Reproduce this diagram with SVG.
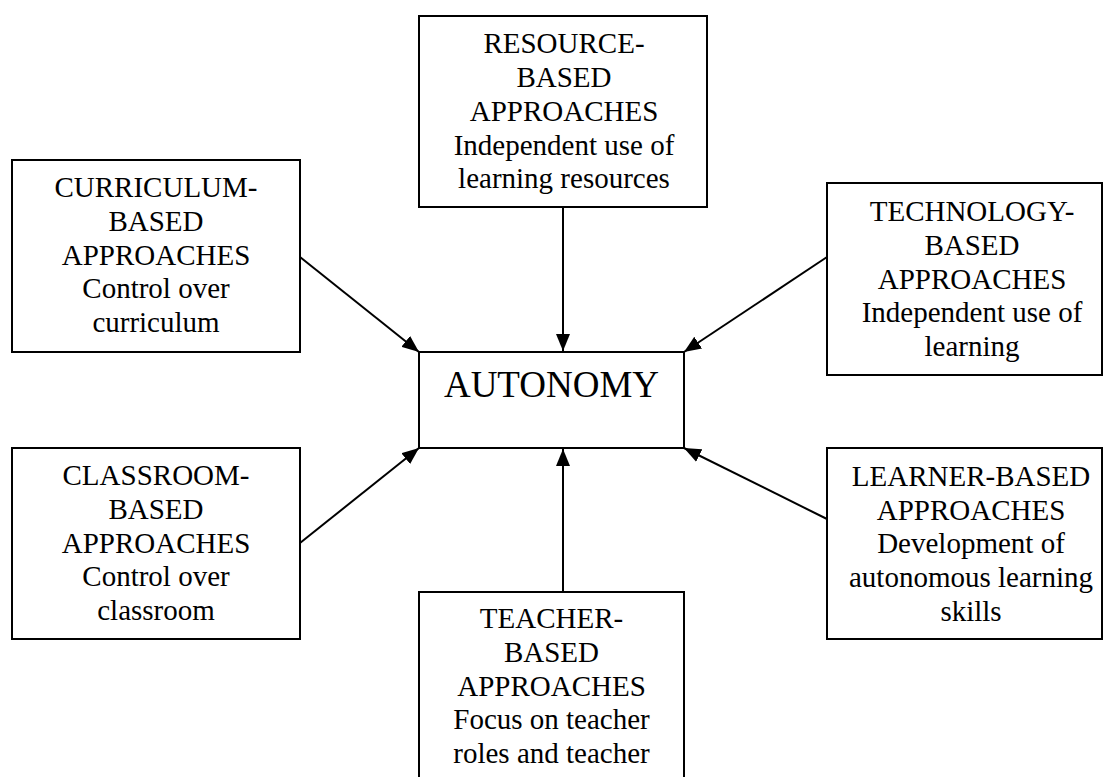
<svg xmlns="http://www.w3.org/2000/svg" width="1103" height="777" viewBox="0 0 1103 777">
<style>
.box{fill:#fff;stroke:#000;stroke-width:2}
.t{font-family:'Liberation Serif','Times New Roman',serif;font-size:29px;fill:#000;text-anchor:middle}
.big{font-size:37px}
.c{stroke:#000;stroke-width:2;fill:none}
</style>
<defs>
<marker id="ah" markerUnits="userSpaceOnUse" markerWidth="18" markerHeight="14" refX="17" refY="7" orient="auto">
<path d="M0,0 L17,7 L0,14 z" fill="#000"/>
</marker>
</defs>
<rect width="1103" height="777" fill="#fff"/>
<g id="connectors">
<line class="c" x1="563" y1="207" x2="563" y2="351" marker-end="url(#ah)"/>
<line class="c" x1="300" y1="257" x2="419" y2="352" marker-end="url(#ah)"/>
<line class="c" x1="827" y1="257" x2="684" y2="352" marker-end="url(#ah)"/>
<line class="c" x1="300" y1="543" x2="419" y2="448" marker-end="url(#ah)"/>
<line class="c" x1="827" y1="519" x2="684" y2="448" marker-end="url(#ah)"/>
<line class="c" x1="563" y1="592" x2="563" y2="449" marker-end="url(#ah)"/>
</g>
<g id="resource">
<rect class="box" x="419" y="16" width="288" height="191"/>
<text class="t" x="564" y="53">RESOURCE-</text>
<text class="t" x="564" y="87">BASED</text>
<text class="t" x="564" y="121">APPROACHES</text>
<text class="t" x="564" y="155">Independent use of</text>
<text class="t" x="564" y="188">learning resources</text>
</g>
<g id="curriculum">
<rect class="box" x="12" y="160" width="288" height="192"/>
<text class="t" x="156" y="197">CURRICULUM-</text>
<text class="t" x="156" y="231">BASED</text>
<text class="t" x="156" y="265">APPROACHES</text>
<text class="t" x="156" y="298">Control over</text>
<text class="t" x="156" y="332">curriculum</text>
</g>
<g id="technology">
<rect class="box" x="827" y="183" width="275" height="192"/>
<text class="t" x="972" y="221">TECHNOLOGY-</text>
<text class="t" x="972" y="255">BASED</text>
<text class="t" x="972" y="289">APPROACHES</text>
<text class="t" x="972" y="322">Independent use of</text>
<text class="t" x="972" y="356">learning</text>
</g>
<g id="autonomy">
<rect class="box" x="419" y="352" width="265" height="96"/>
<text class="t big" x="551.5" y="397">AUTONOMY</text>
</g>
<g id="classroom">
<rect class="box" x="12" y="448" width="288" height="191"/>
<text class="t" x="156" y="485">CLASSROOM-</text>
<text class="t" x="156" y="519">BASED</text>
<text class="t" x="156" y="553">APPROACHES</text>
<text class="t" x="156" y="586">Control over</text>
<text class="t" x="156" y="620">classroom</text>
</g>
<g id="learner">
<rect class="box" x="827" y="448" width="275" height="191"/>
<text class="t" x="971" y="486">LEARNER-BASED</text>
<text class="t" x="971" y="520">APPROACHES</text>
<text class="t" x="971" y="553">Development of</text>
<text class="t" x="971" y="587">autonomous learning</text>
<text class="t" x="971" y="621">skills</text>
</g>
<g id="teacher">
<rect class="box" x="419" y="592" width="265" height="200"/>
<text class="t" x="551.5" y="628">TEACHER-</text>
<text class="t" x="551.5" y="662">BASED</text>
<text class="t" x="551.5" y="696">APPROACHES</text>
<text class="t" x="551.5" y="729">Focus on teacher</text>
<text class="t" x="551.5" y="763">roles and teacher</text>
</g>
</svg>
